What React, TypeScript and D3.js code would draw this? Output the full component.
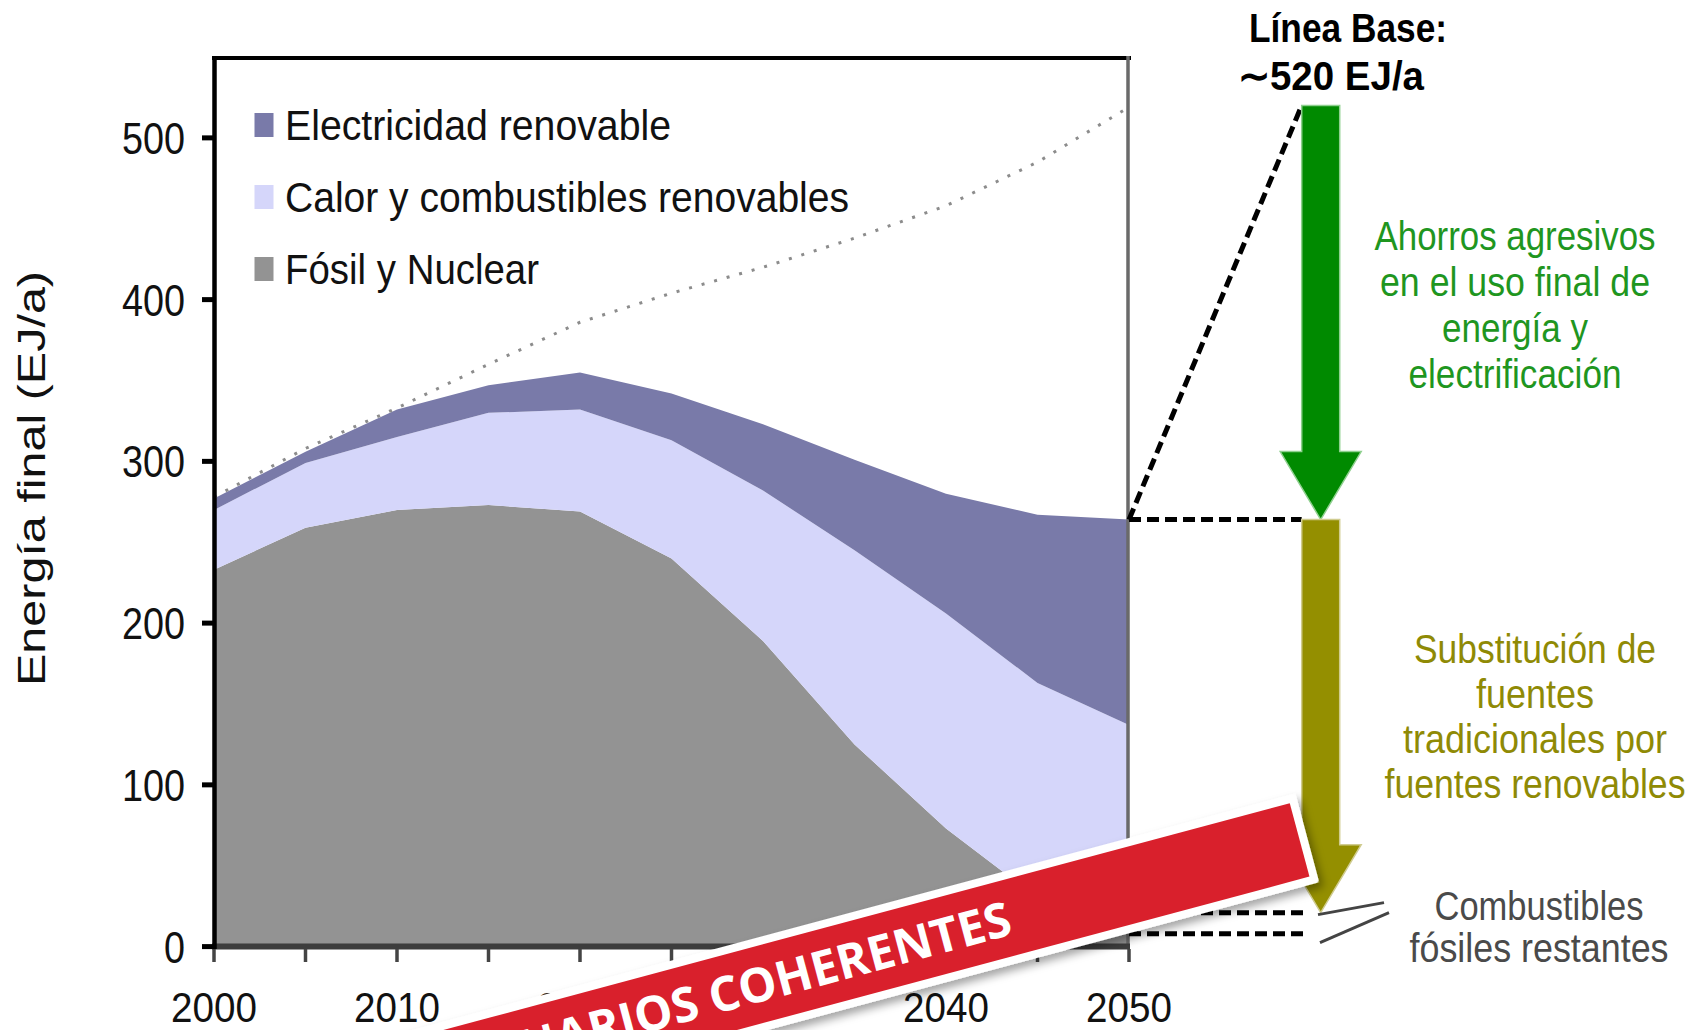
import React from "react";
import * as d3 from "d3";

// ---- data ----
const years = [2000, 2005, 2010, 2015, 2020, 2025, 2030, 2035, 2040, 2045, 2050];
const fossilNuclear = [233, 259, 270, 273, 269, 240, 189, 125, 73, 30, 21];
const heatFuels = [37, 40, 45, 57, 63, 73, 93, 120, 133, 133, 116];
const renewElec = [7, 7, 17, 17, 23, 29, 41, 56, 74, 104, 127];
const baselineDemand = [278, 308, 333, 360, 386, 404, 420, 438, 458, 485, 519];
const seriesKeys = ["fossil", "heat", "elec"];
const seriesColors = ["#939393", "#d5d6fa", "#797aa9"];
const yTicks = [0, 100, 200, 300, 400, 500];
const xTicks = [2000, 2005, 2010, 2015, 2020, 2025, 2030, 2035, 2040, 2045, 2050];
const xLabels = [2000, 2010, 2020, 2030, 2040, 2050];
const baselineLabel = 520;
const remainingFossilLow = 8;

const legendItems = [
  { name: "Electricidad renovable", color: "#797aa9", len: 386 },
  { name: "Calor y combustibles renovables", color: "#d5d6fa", len: 564 },
  { name: "Fósil y Nuclear", color: "#939393", len: 254 },
];
const greenLines = [
  { t: "Ahorros agresivos", len: 281 },
  { t: "en el uso final de", len: 270 },
  { t: "energía y", len: 146 },
  { t: "electrificación", len: 213 },
];
const oliveLines = [
  { t: "Substitución de", len: 242 },
  { t: "fuentes", len: 118 },
  { t: "tradicionales por", len: 264 },
  { t: "fuentes renovables", len: 301 },
];
const grayLines = [
  { t: "Combustibles", len: 209 },
  { t: "fósiles restantes", len: 259 },
];

const FONT = "'Liberation Sans', Arial, sans-serif";

export default function App() {
  const W = 1702, H = 1030;
  const x = d3.scaleLinear().domain([2000, 2050]).range([214, 1129]);
  const y = d3.scaleLinear().domain([0, 550]).range([946.6, 57]);

  const records = years.map((yr, i) => ({
    year: yr,
    fossil: fossilNuclear[i],
    heat: heatFuels[i],
    elec: renewElec[i],
  }));
  const stacked = d3.stack<any>().keys(seriesKeys)(records as any);
  const area = d3
    .area<any>()
    .x((d) => x(d.data.year))
    .y0((d) => y(d[0]))
    .y1((d) => y(d[1]))
    .curve(d3.curveLinear);
  const baseLine = d3
    .line<number>()
    .x((_, i) => x(years[i]))
    .y((d) => y(d))
    .curve(d3.curveLinear);

  const last = years.length - 1;
  const total2050 = fossilNuclear[last] + heatFuels[last] + renewElec[last];
  const fossil2050 = fossilNuclear[last];

  // arrows
  const ax = 1320.7;
  const shaftW = 38;
  const headW = 81;
  const headL = 68;
  const arrowPath = (y0: number, y1: number) =>
    `M${ax - shaftW / 2},${y0} L${ax + shaftW / 2},${y0} L${ax + shaftW / 2},${y1 - headL} L${ax + headW / 2},${y1 - headL} L${ax},${y1} L${ax - headW / 2},${y1 - headL} L${ax - shaftW / 2},${y1 - headL} Z`;

  const xEnd = x(2050);

  return (
    <svg
      width={W}
      height={H}
      style={{ position: "absolute", left: 0, top: 0, background: "#fff" }}
      fontFamily={FONT}
    >
      <defs>
        <filter id="shadow" x="-10%" y="-50%" width="120%" height="200%">
          <feDropShadow dx="3" dy="6" stdDeviation="4" floodColor="#000" floodOpacity="0.35" />
        </filter>
      </defs>
      <rect width={W} height={H} fill="#fff" />

      {/* areas */}
      {stacked.map((s, i) => (
        <path key={s.key} d={area(s as any) || ""} fill={seriesColors[i]} />
      ))}

      {/* baseline dotted */}
      <path
        d={baseLine(baselineDemand) || ""}
        fill="none"
        stroke="#8c8c8c"
        strokeWidth={3}
        strokeDasharray="3 10"
      />

      {/* frame */}
      <line x1={212} x2={1131} y1={58} y2={58} stroke="#000" strokeWidth={4} />
      <line x1={1128} x2={1128} y1={56} y2={947} stroke="#6a6a6a" strokeWidth={3.5} />
      <line x1={212} x2={1130} y1={y(0)} y2={y(0)} stroke="#3d3d3d" strokeWidth={6} />
      <line x1={214.5} x2={214.5} y1={56} y2={949} stroke="#000" strokeWidth={4.5} />

      {/* y ticks */}
      {yTicks.map((t) => (
        <g key={t}>
          <line x1={202} x2={214} y1={y(t)} y2={y(t)} stroke="#000" strokeWidth={5} />
          <text
            x={185}
            y={y(t) + 16}
            textAnchor="end"
            fontSize={44}
            fill="#111"
            textLength={String(t).length * 21}
            lengthAdjust="spacingAndGlyphs"
          >
            {t}
          </text>
        </g>
      ))}

      {/* x ticks */}
      {xTicks.map((t) => (
        <line key={t} x1={x(t)} x2={x(t)} y1={949} y2={962} stroke="#444" strokeWidth={3.5} />
      ))}
      {xLabels.map((t) => (
        <text
          key={t}
          x={x(t)}
          y={1022}
          textAnchor="middle"
          fontSize={43}
          fill="#111"
          textLength={86}
          lengthAdjust="spacingAndGlyphs"
        >
          {t}
        </text>
      ))}

      {/* y axis title */}
      <text
        transform={`translate(45,478.5) rotate(-90)`}
        textAnchor="middle"
        fontSize={39}
        fill="#111"
        textLength={415}
        lengthAdjust="spacingAndGlyphs"
      >
        Energía final (EJ/a)
      </text>

      {/* legend */}
      {legendItems.map((it, i) => {
        const cy = 125 + i * 72;
        return (
          <g key={it.name}>
            <rect x={254.5} y={cy - 12} width={19} height={24} fill={it.color} />
            <text
              x={285}
              y={cy + 15}
              fontSize={42}
              fill="#111"
              textLength={it.len}
              lengthAdjust="spacingAndGlyphs"
            >
              {it.name}
            </text>
          </g>
        );
      })}

      {/* annotations: dashed lines */}
      <line
        x1={xEnd}
        y1={y(total2050)}
        x2={ax - shaftW / 2}
        y2={y(baselineLabel)}
        stroke="#000"
        strokeWidth={5}
        strokeDasharray="12 6"
      />
      <line
        x1={xEnd}
        y1={y(total2050)}
        x2={ax - shaftW / 2}
        y2={y(total2050)}
        stroke="#000"
        strokeWidth={5}
        strokeDasharray="12 6"
      />
      <line
        x1={xEnd}
        y1={y(fossil2050)}
        x2={1308}
        y2={y(fossil2050)}
        stroke="#000"
        strokeWidth={5}
        strokeDasharray="12 6"
      />
      <line
        x1={xEnd}
        y1={y(remainingFossilLow)}
        x2={1308}
        y2={y(remainingFossilLow)}
        stroke="#000"
        strokeWidth={5}
        strokeDasharray="12 6"
      />

      {/* arrows */}
      <path d={arrowPath(y(baselineLabel), y(total2050))} fill="#008a00" stroke="#8fd08f" strokeWidth={1.5} />
      <path d={arrowPath(y(total2050), y(fossil2050))} fill="#948f00" stroke="#d0cc90" strokeWidth={1.5} />

      {/* break marks */}
      <line x1={1318} y1={y(fossil2050) + 2} x2={1384} y2={y(fossil2050) - 10} stroke="#444" strokeWidth={3} />
      <line x1={1320} y1={y(fossil2050) + 30} x2={1389} y2={y(fossil2050)} stroke="#444" strokeWidth={3} />

      {/* Linea base */}
      <text
        x={1348}
        y={42}
        textAnchor="middle"
        fontSize={41}
        fontWeight="bold"
        fill="#000"
        textLength={198}
        lengthAdjust="spacingAndGlyphs"
      >
        Línea Base:
      </text>
      <text
        x={1331}
        y={90}
        textAnchor="middle"
        fontSize={41}
        fontWeight="bold"
        fill="#000"
        textLength={186}
        lengthAdjust="spacingAndGlyphs"
      >
        {"∼" + baselineLabel + " EJ/a"}
      </text>

      {greenLines.map((l, i) => (
        <text
          key={l.t}
          x={1515}
          y={250 + i * 46}
          textAnchor="middle"
          fontSize={40}
          fill="#1f961f"
          textLength={l.len}
          lengthAdjust="spacingAndGlyphs"
        >
          {l.t}
        </text>
      ))}
      {oliveLines.map((l, i) => (
        <text
          key={l.t}
          x={1535}
          y={663 + i * 45}
          textAnchor="middle"
          fontSize={40}
          fill="#8f8a05"
          textLength={l.len}
          lengthAdjust="spacingAndGlyphs"
        >
          {l.t}
        </text>
      ))}
      {grayLines.map((l, i) => (
        <text
          key={l.t}
          x={1539}
          y={920 + i * 42}
          textAnchor="middle"
          fontSize={40}
          fill="#4a4a4a"
          textLength={l.len}
          lengthAdjust="spacingAndGlyphs"
        >
          {l.t}
        </text>
      ))}

      {/* banner */}
      <g transform="translate(1299.6,839.9) rotate(-15)">
        <rect x={-1508} y={-46} width={1516} height={92} rx={3} fill="#fff" filter="url(#shadow)" />
        <rect x={-1500} y={-38} width={1500} height={76} fill="#d9202c" />
        <text
          x={-300}
          y={17}
          textAnchor="end"
          fontSize={48}
          fontWeight="bold"
          fill="#fff"
          fontFamily="'Open Sans', 'Noto Sans', sans-serif"
        >
          ESCENARIOS COHERENTES
        </text>
      </g>
    </svg>
  );
}
